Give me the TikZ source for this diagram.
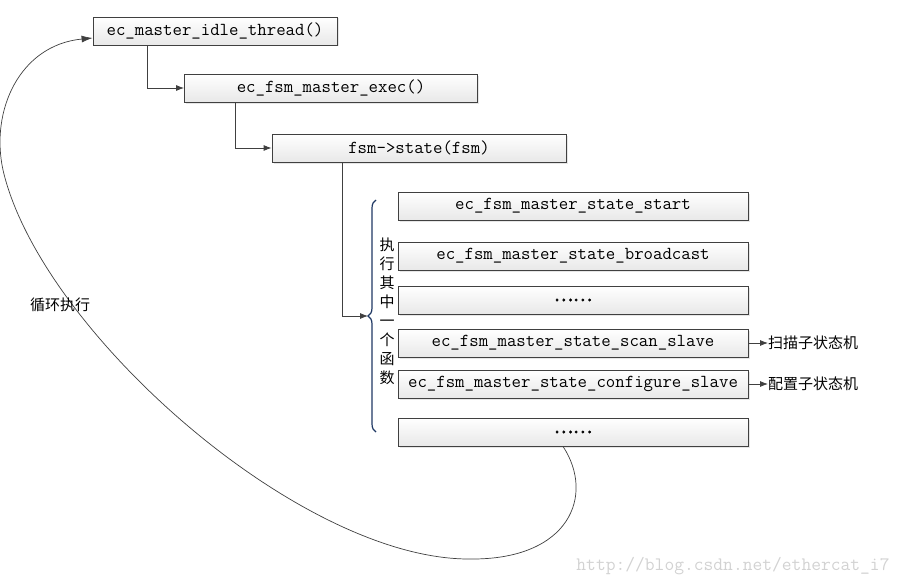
\documentclass[tikz,border=0pt]{standalone}
\usepackage{fontspec}
\newfontfamily\cjk{Noto Sans CJK SC}
\newfontfamily\cjkdots[FakeBold=2.5]{Noto Sans CJK SC}
\usetikzlibrary{arrows.meta,shadows,decorations.pathreplacing}
\definecolor{boxline}{RGB}{64,64,64}
\definecolor{bracecol}{RGB}{31,56,100}

\begin{document}
\begin{tikzpicture}[x=1pt,y=-1pt,
  fn/.style={draw=boxline,line width=0.8pt,top color=white,bottom color=gray!18,
    drop shadow={shadow xshift=1.5pt,shadow yshift=-1.5pt,opacity=0.2},
    minimum height=28pt,inner sep=0pt,font=\ttfamily\fontsize{18.3}{20}\selectfont},
  conn/.style={draw=boxline,line width=0.8pt,-{Latex[length=8pt,width=6pt]}},
  note/.style={inner sep=0pt,font=\cjk\fontsize{15}{19}\selectfont}]
\useasboundingbox (0,0) rectangle (904,586);
\node[fn,minimum width=244pt] (idle) at (215,31) {ec\_master\_idle\_thread()};
\node[fn,minimum width=293pt] (exec) at (331,88) {ec\_fsm\_master\_exec()};
\node[fn,minimum width=294pt] (state) at (419,148) {fsm->state(fsm)};
\node[fn,minimum width=350pt] (start) at (573,206) {ec\_fsm\_master\_state\_start};
\node[fn,minimum width=350pt] (bcast) at (573,256) {ec\_fsm\_master\_state\_broadcast};
\node[fn,minimum width=350pt] (more) at (573,300) {\cjkdots\fontsize{18}{18}\selectfont ……};
\node[fn,minimum width=350pt] (scan) at (573,343) {ec\_fsm\_master\_state\_scan\_slave};
\node[fn,minimum width=350pt] (conf) at (573,384) {ec\_fsm\_master\_state\_configure\_slave};
\node[fn,minimum width=350pt] (last) at (573,432) {\cjkdots\fontsize{18}{18}\selectfont ……};

\draw[conn] ([xshift=55pt]idle.south west) |- (exec.west);
\draw[conn] ([xshift=51pt]exec.south west) |- (state.west);

\node[note,align=center] (hint) at (387,311) {执\\行\\其\\中\\一\\个\\函\\数};
\coordinate (btop) at (376,200);
\coordinate (bbot) at (376,432);
\coordinate (tip) at (368,316);
\draw[bracecol,line width=1.2pt,decorate,decoration={brace,amplitude=8pt}] (bbot) -- (btop);
\draw[conn] ([xshift=71pt]state.south west) |- (tip);

\node[note,anchor=west] (scanlbl) at (768,343) {扫描子状态机};
\node[note,anchor=west] (conflbl) at (768,384) {配置子状态机};
\draw[conn] (scan.east) -- (scanlbl.west);
\draw[conn] (conf.east) -- (conflbl.west);

\draw[boxline,line width=0.7pt,-{Latex[length=11pt,width=7pt]}] ([xshift=-10pt]last.south)
  .. controls (595,495) and (570,560) .. (470,559)
  .. controls (300,560) and (40,330) .. (3,170)
  .. controls (-10,110) and (20,45) .. ([yshift=-7pt]idle.west);
\node[note] (looplbl) at (60,305) {循环执行};

\node[inner sep=0pt,text=gray!35,font=\ttfamily\fontsize{19}{19}\selectfont] (mark) at (733,566) {http://blog.csdn.net/ethercat\_i7};
\end{tikzpicture}
\end{document}
